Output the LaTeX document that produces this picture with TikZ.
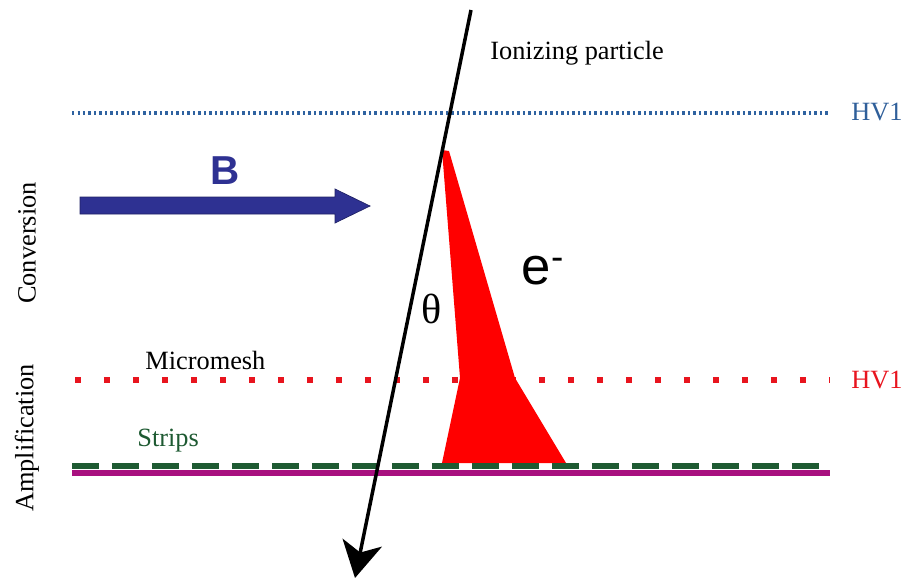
\documentclass[tikz,border=0pt]{standalone}
\usepackage{fontspec}
\setmainfont{Liberation Serif}
\newfontfamily\arialfont{Liberation Sans}
\usetikzlibrary{arrows.meta}
\definecolor{hvblue}{HTML}{2F62A0}
\definecolor{hvbluetext}{HTML}{2F5F9A}
\definecolor{bblue}{HTML}{2E3192}
\definecolor{meshred}{HTML}{E8141E}
\definecolor{stripgreen}{HTML}{1E5A32}
\definecolor{basemag}{HTML}{A8107F}
\tikzset{
  lbl/.style={font=\fontsize{15}{15}\selectfont, inner sep=0pt},
  hvlbl/.style={font=\fontsize{15}{15}\selectfont, inner sep=0pt, anchor=west},
}
\begin{document}
\begin{tikzpicture}[x=0.02cm,y=-0.02cm]
\useasboundingbox (0,0) rectangle (902,578);
% HV1 blue dotted
\draw[hvblue, line width=0.09cm, dash pattern=on 0.045cm off 0.065cm] (72,113) -- (828,113);
\node[hvlbl, text=hvbluetext] (hvtop) at (851,112) {HV1};
% Micromesh red dots
\draw[meshred, line width=0.12cm, dash pattern=on 0.12cm off 0.46cm] (75,380) -- (830,380);
\node[hvlbl, text=meshred] (hvmesh) at (851,380) {HV1};
% red electron cloud
\fill[red] (442,150) -- (449,151) -- (515,378) -- (566,463) -- (442,463) -- (460,378) -- cycle;
% strips and base
\draw[basemag, line width=0.12cm] (72,473) -- (830,473);
\draw[stripgreen, line width=0.11cm, dash pattern=on 0.54cm off 0.26cm] (72,466) -- (830,466);
% B arrow
\fill[bblue, draw=bblue!70!black, line width=0.4pt] (80,197) -- (335,197) -- (335,189) -- (370,206) -- (335,223) -- (335,214) -- (80,214) -- cycle;
\node[inner sep=0pt, text=bblue, font=\arialfont\bfseries\fontsize{23}{23}\selectfont] (B) at (225,171) {B};
% particle track
\coordinate (ptop) at (471,10);
\coordinate (pbot) at (355,578);
\draw[line width=0.07cm, -{Stealth[length=0.72cm,width=0.8cm,inset=0.2cm]}] (ptop) -- (pbot);
% labels
\node[lbl, anchor=west] (ion) at (490,53) {Ionizing particle};
\node[lbl, anchor=west] (mm) at (145,360) {Micromesh};
\node[lbl, anchor=west, text=stripgreen] (strips) at (137,441) {Strips};
\node[lbl, rotate=90] (conv) at (27,243) {Conversion};
\node[lbl, rotate=90] (amp) at (27,438) {Amplification};
\node[inner sep=0pt, font=\fontsize{24}{24}\selectfont] (theta) at (432,309) {θ};
\node[inner sep=0pt, font=\arialfont\fontsize{30}{30}\selectfont] (el) at (543,271) {e\textsuperscript{-}};
\end{tikzpicture}
\end{document}
